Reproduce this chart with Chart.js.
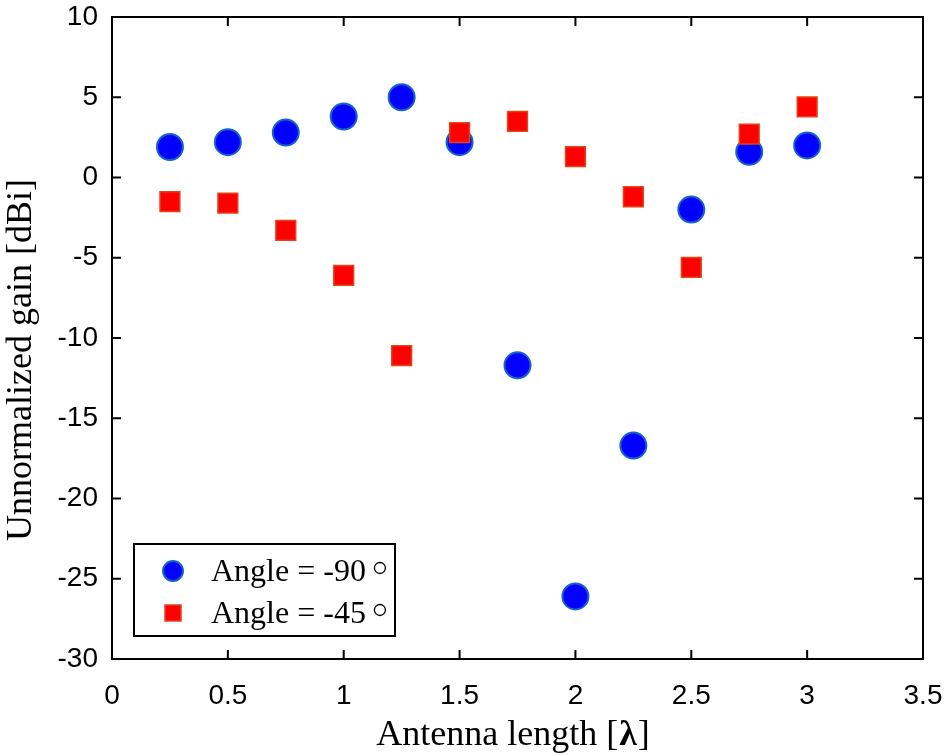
<!DOCTYPE html>
<html>
<head>
<meta charset="utf-8">
<script src="https://cdn.jsdelivr.net/npm/chart.js@4.4.1/dist/chart.umd.min.js"></script>
<style>
  html, body { margin: 0; padding: 0; background: #fff; }
  #wrap { width: 944px; height: 756px; }
</style>
</head>
<body>
<div id="wrap"><canvas id="gainChart"></canvas></div>
<script>
// antenna length in wavelengths
const lengths = [0.25, 0.5, 0.75, 1, 1.25, 1.5, 1.75, 2, 2.25, 2.5, 2.75, 3];
// unnormalized gain, dBi
const gain90 = [1.9, 2.2, 2.8, 3.8, 5.0, 2.2, -11.7, -26.1, -16.7, -2.0, 1.6, 2.0];
const gain45 = [-1.5, -1.6, -3.3, -6.1, -11.1, 2.8, 3.5, 1.3, -1.2, -5.6, 2.7, 4.4];
const seriesLabels = ["Angle = -90", "Angle = -45"];
const xTicks = [0, 0.5, 1, 1.5, 2, 2.5, 3, 3.5];
const yTicks = [-30, -25, -20, -15, -10, -5, 0, 5, 10];

const serif = "'Liberation Serif', 'Times New Roman', serif";
const sans = "'Liberation Sans', Arial, sans-serif";

function toPoints(ys) {
    return lengths.map((x, i) => ({ x: x, y: ys[i] }));
}

// drop the extra room chart.js keeps for edge labels
function noEdgePadding(s) {
    s.paddingLeft = 0;
    s.paddingRight = 0;
    s.paddingTop = 0;
    s.paddingBottom = 0;
}

// box, inward ticks, axis titles and legend
const framePlugin = {
    id: "frame",
    afterDatasetsDraw(chart) {
        const ctx = chart.ctx;
        const a = chart.chartArea;
        const sx = chart.scales.x;
        const sy = chart.scales.y;
        const tick = 9;

        ctx.save();
        ctx.strokeStyle = "#000";
        ctx.lineWidth = 2;
        ctx.beginPath();
        xTicks.forEach(v => {
            const px = sx.getPixelForValue(v);
            ctx.moveTo(px, a.bottom); ctx.lineTo(px, a.bottom - tick);
            ctx.moveTo(px, a.top); ctx.lineTo(px, a.top + tick);
        });
        yTicks.forEach(v => {
            const py = sy.getPixelForValue(v);
            ctx.moveTo(a.left, py); ctx.lineTo(a.left + tick, py);
            ctx.moveTo(a.right, py); ctx.lineTo(a.right - tick, py);
        });
        ctx.stroke();
        ctx.strokeRect(a.left, a.top, a.right - a.left, a.bottom - a.top);

        // x title with bold lambda
        const tf = "36px " + serif;
        const tfb = "bold 36px " + serif;
        ctx.fillStyle = "#000";
        ctx.textBaseline = "middle";
        const p1 = "Antenna length [", p2 = "\u03bb", p3 = "]";
        ctx.font = tf;
        const w1 = ctx.measureText(p1).width, w3 = ctx.measureText(p3).width;
        ctx.font = tfb;
        const w2 = ctx.measureText(p2).width;
        const tx = 512 - (w1 + w2 + w3) / 2;
        const ty = 736;
        ctx.textAlign = "left";
        ctx.font = tf;
        ctx.fillText(p1, tx, ty);
        ctx.font = tfb;
        ctx.fillText(p2, tx + w1 + 1, ty);
        ctx.font = tf;
        ctx.fillText(p3, tx + w1 + w2 + 2, ty);

        // y title
        ctx.save();
        ctx.translate(22, 360);
        ctx.rotate(-Math.PI / 2);
        ctx.textAlign = "center";
        ctx.fillText("Unnormalized gain [dBi]", 0, 0);
        ctx.restore();

        // legend box
        const lx = 134, ly = 544, lw = 261, lh = 92;
        ctx.fillStyle = "#fff";
        ctx.fillRect(lx, ly, lw, lh);
        ctx.lineWidth = 2;
        ctx.strokeRect(lx, ly, lw, lh);

        const rows = [571, 613];
        chart.data.datasets.forEach((ds, i) => {
            const cy = rows[i];
            ctx.beginPath();
            if (ds.pointStyle === "circle") {
                ctx.arc(173, cy, 10, 0, Math.PI * 2);
            } else {
                ctx.rect(173 - 8, cy - 8, 16, 16);
            }
            ctx.fillStyle = ds.backgroundColor;
            ctx.fill();
            ctx.lineWidth = ds.borderWidth;
            ctx.strokeStyle = ds.borderColor;
            ctx.stroke();

            ctx.fillStyle = "#000";
            ctx.textAlign = "left";
            ctx.textBaseline = "middle";
            ctx.font = "32px " + serif;
            ctx.fillText(ds.label, 211, cy + 2);
            const w = ctx.measureText(ds.label).width;
            ctx.beginPath();
            ctx.lineWidth = 1.3;
            ctx.strokeStyle = "#000";
            ctx.arc(211 + w + 14, cy - 3, 5.5, 0, Math.PI * 2);
            ctx.stroke();
        });
        ctx.restore();
    }
};

new Chart(document.getElementById("gainChart"), {
    type: "scatter",
    data: {
        datasets: [
            {
                label: seriesLabels[0],
                data: toPoints(gain90),
                order: 1,
                pointStyle: "circle",
                pointRadius: 13,
                pointHoverRadius: 13,
                backgroundColor: "#0000ff",
                borderColor: "#1565c8",
                borderWidth: 2
            },
            {
                label: seriesLabels[1],
                data: toPoints(gain45),
                order: 0,
                pointStyle: "rect",
                pointRadius: 14,
                pointHoverRadius: 14,
                backgroundColor: "#ff0000",
                borderColor: "#e0441a",
                borderWidth: 1.5
            }
        ]
    },
    options: {
        responsive: true,
        maintainAspectRatio: false,
        animation: false,
        devicePixelRatio: 1,
        layout: { padding: { top: 17, right: 21, left: 0, bottom: 0 } },
        plugins: {
            legend: { display: false },
            tooltip: { enabled: false }
        },
        scales: {
            x: {
                type: "linear",
                min: 0,
                max: 3.5,
                afterBuildTicks: s => { s.ticks = xTicks.map(v => ({ value: v })); },
                afterFit: s => { s.height = 97; noEdgePadding(s); },
                grid: { display: false, drawTicks: false },
                border: { display: false },
                ticks: {
                    color: "#000",
                    padding: 20,
                    font: { family: sans, size: 28 },
                    callback: v => String(v)
                }
            },
            y: {
                type: "linear",
                min: -30,
                max: 10,
                afterBuildTicks: s => { s.ticks = yTicks.map(v => ({ value: v })); },
                afterFit: s => { s.width = 112; noEdgePadding(s); },
                grid: { display: false, drawTicks: false },
                border: { display: false },
                ticks: {
                    color: "#000",
                    padding: 14,
                    font: { family: sans, size: 28 },
                    callback: v => String(v)
                }
            }
        }
    },
    plugins: [framePlugin]
});
</script>
</body>
</html>
